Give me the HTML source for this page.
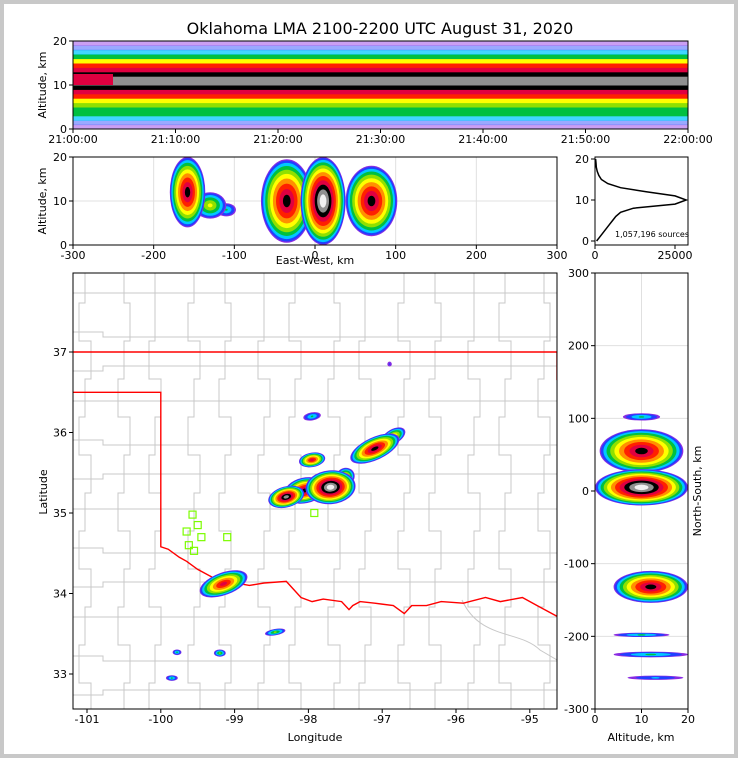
<!DOCTYPE html>
<html><head><meta charset="utf-8"><style>
html,body{margin:0;padding:0;background:#fff}
#wrap{width:738px;height:758px;position:relative;box-sizing:border-box;border:4px solid #c8c8c8;background:#fff;overflow:hidden}
svg{position:absolute;left:-4px;top:-4px;font-family:"DejaVu Sans","Liberation Sans",sans-serif}
</style></head><body>
<div id="wrap">
<svg id="s" width="738" height="758" viewBox="0 0 738 758"></svg>
</div>
<script>
// ---- data ----
const timeTicks=["21:00:00","21:10:00","21:20:00","21:30:00","21:40:00","21:50:00","22:00:00"];
const altTicks=[0,10,20];
const ewTicks=[-300,-200,-100,0,100,200,300];
const histTicks=[0,25000];
const lonTicks=[-101,-100,-99,-98,-97,-96,-95];
const latTicks=[33,34,35,36,37];
const nsTicks=[300,200,100,0,-100,-200,-300];
const nsAltTicks=[0,10,20];
// altitude profile of time-height density (color level per 1 km bin 0..19)
const profileAlt=[0.5,1.5,2.5,3.5,4.5,5.5,6.5,7.5,8.5,9.5,10.5,11.5,12.5,13.5,14.5,15.5,16.5,17.5,18.5,19.5];
const profileLevel=[0,1,2,3,3,4,5,7,8,9,10,10,9,8,7,5,3,2,1,0];
// source histogram by altitude
const histAlt=[0,1,2,3,4,5,6,7,8,9,10,11,12,13,14,15,16,17,18,19,20];
const histCount=[500,1500,2500,3500,4500,5500,6500,8000,12000,25000,28500,25000,16000,8000,4000,2000,1200,700,400,300,200];
// storm cells in map: lon, lat, rx(deg), ry(deg), rotation, level
const cellLon=[-98.3,-98.05,-97.7,-97.5,-97.95,-97.1,-96.85,-97.95,-99.15,-98.45,-99.78,-99.2,-99.85,-96.9];
const cellLat=[35.2,35.28,35.32,35.45,35.66,35.8,35.95,36.2,34.12,33.52,33.27,33.26,32.95,36.85];
const cellRx=[0.25,0.28,0.34,0.13,0.18,0.36,0.18,0.12,0.34,0.14,0.06,0.08,0.08,0.03];
const cellRy=[0.13,0.16,0.21,0.11,0.09,0.14,0.09,0.05,0.14,0.04,0.035,0.045,0.035,0.03];
const cellRot=[-15,-12,-5,-30,-10,-25,-30,-10,-20,-10,0,0,0,0];
const cellLvl=[10,9,11,6,8,9,6,3,8,4,3,4,3,1];
// EW cross-section cells: km, alt, rx km, ry km, level
const ewX=[-158,-130,-110,-35,10,70];
const ewA=[12,9,8,10,10,10];
const ewRx=[22,20,12,32,28,32];
const ewRy=[8,3,1.5,9.5,10,8];
const ewLvl=[9,5,3,9,11,9];
// NS cross-section cells: alt, ns km, rx alt, ry km, level
const nsA=[10,10,10,12,10,12,13];
const nsY=[5,55,102,-132,-198,-225,-257];
const nsRx=[10,9,4,8,6,8,6];
const nsRy=[25,30,5,22,3,4,3];
const nsLvl=[11,9,3,9,3,3,2];
// stations
const staLon=[-99.57,-99.5,-99.65,-99.45,-99.62,-99.55,-99.1,-97.92];
const staLat=[34.98,34.85,34.77,34.7,34.6,34.53,34.7,35.0];
// Oklahoma border (lon,lat)
const bLon=[-101.2,-100,-100,-99.9,-99.75,-99.65,-99.5,-99.3,-99.1,-98.8,-98.6,-98.3,-98.1,-97.95,-97.8,-97.55,-97.45,-97.4,-97.3,-97.1,-96.85,-96.7,-96.6,-96.4,-96.2,-95.9,-95.6,-95.4,-95.1,-94.9,-94.6];
const bLat=[36.5,36.5,34.58,34.55,34.45,34.4,34.3,34.2,34.15,34.1,34.13,34.15,33.95,33.9,33.93,33.9,33.8,33.85,33.9,33.88,33.85,33.75,33.85,33.85,33.9,33.88,33.95,33.9,33.95,33.85,33.7];
</script>
<script>
const NS="http://www.w3.org/2000/svg";
const svg=document.getElementById('s');
function el(t,a,p){const e=document.createElementNS(NS,t);for(const k in a)e.setAttribute(k,a[k]);(p||svg).appendChild(e);return e;}
const COL=['#8a2be2','#2040ff','#00c8ff','#00c040','#90e000','#ffff00','#ff9000','#ff2000','#e00040','#000000','#909090','#f0f0f0'];
function blob(g,cx,cy,rx,ry,rot,lvl){
  for(let i=0;i<=lvl&&i<COL.length;i++){
    const s=1-0.85*Math.pow(i/Math.max(lvl,1),1.5);
    const e=el('ellipse',{cx:cx,cy:cy,rx:Math.max(0.8,rx*s),ry:Math.max(0.8,ry*s),fill:COL[i],transform:`rotate(${rot} ${cx} ${cy})`},g);
    
    
  }
}
function order(n,lv){return Array.from({length:n},(_,i)=>i).sort((a,b)=>lv[a]-lv[b]);}
function txt(x,y,s,o){const e=el('text',Object.assign({x:x,y:y,'font-size':11,fill:'#000'},o||{}));e.textContent=s;return e;}
function frame(x,y,w,h,name){const r=el('rect',{x:x,y:y,width:w,height:h,fill:'none',stroke:'#000','stroke-width':1});}

const t=txt(380,34,'Oklahoma LMA 2100-2200 UTC August 31, 2020',{'font-size':16,'text-anchor':'middle'});


// ---- top panel ----
{
 const X0=73,X1=688,Y0=41,Y1=129;
 const ya=a=>Y1-(a/20)*(Y1-Y0);
 const g=el('g',{});
 profileAlt.forEach((a,i)=>{
   const lv=profileLevel[i];
   const r=el('rect',{x:X0,y:ya(a+0.5),width:X1-X0,height:(Y1-Y0)/20+0.5,fill:COL[Math.min(lv,COL.length-1)],opacity:lv<=1?0.45:(lv==2?0.75:1)},g);
   
 });
 el('rect',{x:X0,y:ya(12.5),width:40,height:ya(10)-ya(12.5),fill:'#e00040'},g);
 frame(X0,Y0,X1-X0,Y1-Y0,'time-height-frame');
 timeTicks.forEach((s,i)=>{const x=X0+i*(X1-X0)/6;el('line',{x1:x,x2:x,y1:Y1,y2:Y1+4,stroke:'#000'});txt(x,Y1+14,s,{'text-anchor':'middle'});});
 altTicks.forEach(a=>{el('line',{x1:X0-4,x2:X0,y1:ya(a),y2:ya(a),stroke:'#000'});txt(X0-6,ya(a)+4,a,{'text-anchor':'end'});});
 txt(46,85,'Altitude, km',{'text-anchor':'middle',transform:'rotate(-90 46 85)'});
}

// ---- EW panel ----
{
 const X0=73,X1=557,Y0=157,Y1=245;
 const xk=k=>X0+(k+300)/600*(X1-X0), ya=a=>Y1-(a/20)*(Y1-Y0);
 [-200,-100,0,100,200].forEach(k=>el('line',{x1:xk(k),x2:xk(k),y1:Y0,y2:Y1,stroke:'#e0e0e0'}));
 el('line',{x1:X0,x2:X1,y1:ya(10),y2:ya(10),stroke:'#e0e0e0'});
 const g=el('g',{});
 order(ewX.length,ewLvl).forEach(i=>blob(g,xk(ewX[i]),ya(ewA[i]),ewRx[i]*(X1-X0)/600,ewRy[i]*(Y1-Y0)/20,0,ewLvl[i]));
 frame(X0,Y0,X1-X0,Y1-Y0,'east-west-frame');
 ewTicks.forEach(k=>{el('line',{x1:xk(k),x2:xk(k),y1:Y1,y2:Y1+4,stroke:'#000'});txt(xk(k),Y1+14,k,{'text-anchor':'middle'});});
 altTicks.forEach(a=>{el('line',{x1:X0-4,x2:X0,y1:ya(a),y2:ya(a),stroke:'#000'});txt(X0-6,ya(a)+4,a,{'text-anchor':'end'});});
 txt(46,201,'Altitude, km',{'text-anchor':'middle',transform:'rotate(-90 46 201)'});
 txt(315,264,'East-West, km',{'text-anchor':'middle'});
}

// ---- histogram ----
{
 const X0=595,X1=688,Y0=157,Y1=245;
 const xc=c=>X0+c/25000*80, ya=a=>241-a*4.1;
 const pts=histAlt.map((a,i)=>xc(histCount[i]).toFixed(1)+','+ya(a).toFixed(1)).join(' ');
 const p=el('polyline',{points:pts,fill:'none',stroke:'#000','stroke-width':1.5});
 
 frame(X0,Y0,X1-X0,Y1-Y0,'histogram-frame');
 histTicks.forEach(c=>{el('line',{x1:xc(c),x2:xc(c),y1:Y1,y2:Y1+4,stroke:'#000'});txt(xc(c),Y1+14,c,{'text-anchor':'middle'});});
 altTicks.forEach(a=>{el('line',{x1:X0-4,x2:X0,y1:ya(a),y2:ya(a),stroke:'#000'});txt(X0-6,ya(a)+4,a,{'text-anchor':'end'});});
 txt(615,237,'1,057,196 sources',{'font-size':8});
}

// ---- map ----
{
 const X0=73,X1=557,Y0=273,Y1=709;
 const xl=l=>87+(l+101)*73.8, yl=l=>352-(l-37)*80.5;
 const defs=el('defs',{});const cp=el('clipPath',{id:'mc'},defs);el('rect',{x:X0,y:Y0,width:X1-X0,height:Y1-Y0},cp);
 const g=el('g',{'clip-path':'url(#mc)'});
 const cg=el('g',{stroke:'#c8c8c8','stroke-width':1,fill:'none'},g);
 
 for(let r=0;r<12;r++){const y=Y0+20+r*36+(r%3)*3;let d=`M${X0} ${y}`;let yy=y;for(let x=X0+30;x<=X1+40;x+=36){d+=` H${x}`;yy=y+((x+r*7)%3-1)*5;d+=` V${yy}`;}el('path',{d:d},cg);}
 for(let c=0;c<14;c++){const x=X0+12+c*35+(c%2)*4;let d=`M${x} ${Y0}`;let xx=x;for(let y=Y0+30;y<=Y1+40;y+=38){d+=` V${y}`;xx=x+((y+c*5)%3-1)*6;d+=` H${xx}`;}el('path',{d:d},cg);}
 el('path',{d:'M462 600 C480 640 520 630 540 650 L557 660',stroke:'#c8c8c8',fill:'none'},g);
 const bp=bLon.map((l,i)=>xl(l).toFixed(1)+','+yl(bLat[i]).toFixed(1)).join(' ');
 const b=el('polyline',{points:bp,fill:'none',stroke:'#f00','stroke-width':1.4},g);
 
 el('polyline',{points:`${X0},${yl(37)} ${X1},${yl(37)} ${X1},${yl(36.65)}`,fill:'none',stroke:'#f00','stroke-width':1.4},g);
 order(cellLon.length,cellLvl).forEach(i=>blob(g,xl(cellLon[i]),yl(cellLat[i]),cellRx[i]*73.8,cellRy[i]*80.5,cellRot[i],cellLvl[i]));
 staLon.forEach((l,i)=>{const r=el('rect',{x:xl(l)-3.5,y:yl(staLat[i])-3.5,width:7,height:7,fill:'none',stroke:'#7cfc00','stroke-width':1.2},g);});
 frame(X0,Y0,X1-X0,Y1-Y0,'map-frame');
 lonTicks.forEach(l=>{el('line',{x1:xl(l),x2:xl(l),y1:Y1,y2:Y1+4,stroke:'#000'});txt(xl(l),Y1+14,l,{'text-anchor':'middle'});});
 latTicks.forEach(l=>{el('line',{x1:X0-4,x2:X0,y1:yl(l),y2:yl(l),stroke:'#000'});txt(X0-6,yl(l)+4,l,{'text-anchor':'end'});});
 txt(47,492,'Latitude',{'text-anchor':'middle',transform:'rotate(-90 47 492)'});
 txt(315,741,'Longitude',{'text-anchor':'middle'});
}

// ---- NS panel ----
{
 const X0=595,X1=688,Y0=273,Y1=709;
 const xa=a=>X0+a/20*(X1-X0), yn=n=>491-n*(Y1-Y0)/600;
 [-200,-100,0,100,200].forEach(n=>el('line',{x1:X0,x2:X1,y1:yn(n),y2:yn(n),stroke:'#e0e0e0'}));
 el('line',{x1:xa(10),x2:xa(10),y1:Y0,y2:Y1,stroke:'#e0e0e0'});
 const g=el('g',{});
 order(nsA.length,nsLvl).forEach(i=>blob(g,xa(nsA[i]),yn(nsY[i]),nsRx[i]*(X1-X0)/20,nsRy[i]*(Y1-Y0)/600,0,nsLvl[i]));
 frame(X0,Y0,X1-X0,Y1-Y0,'north-south-frame');
 nsAltTicks.forEach(a=>{el('line',{x1:xa(a),x2:xa(a),y1:Y1,y2:Y1+4,stroke:'#000'});txt(xa(a),Y1+14,a,{'text-anchor':'middle'});});
 nsTicks.forEach(n=>{el('line',{x1:X0-4,x2:X0,y1:yn(n),y2:yn(n),stroke:'#000'});txt(X0-6,yn(n)+4,n,{'text-anchor':'end'});});
 txt(641,741,'Altitude, km',{'text-anchor':'middle'});
 txt(701,491,'North-South, km',{'text-anchor':'middle',transform:'rotate(-90 701 491)'});
}
</script>
</body></html>
